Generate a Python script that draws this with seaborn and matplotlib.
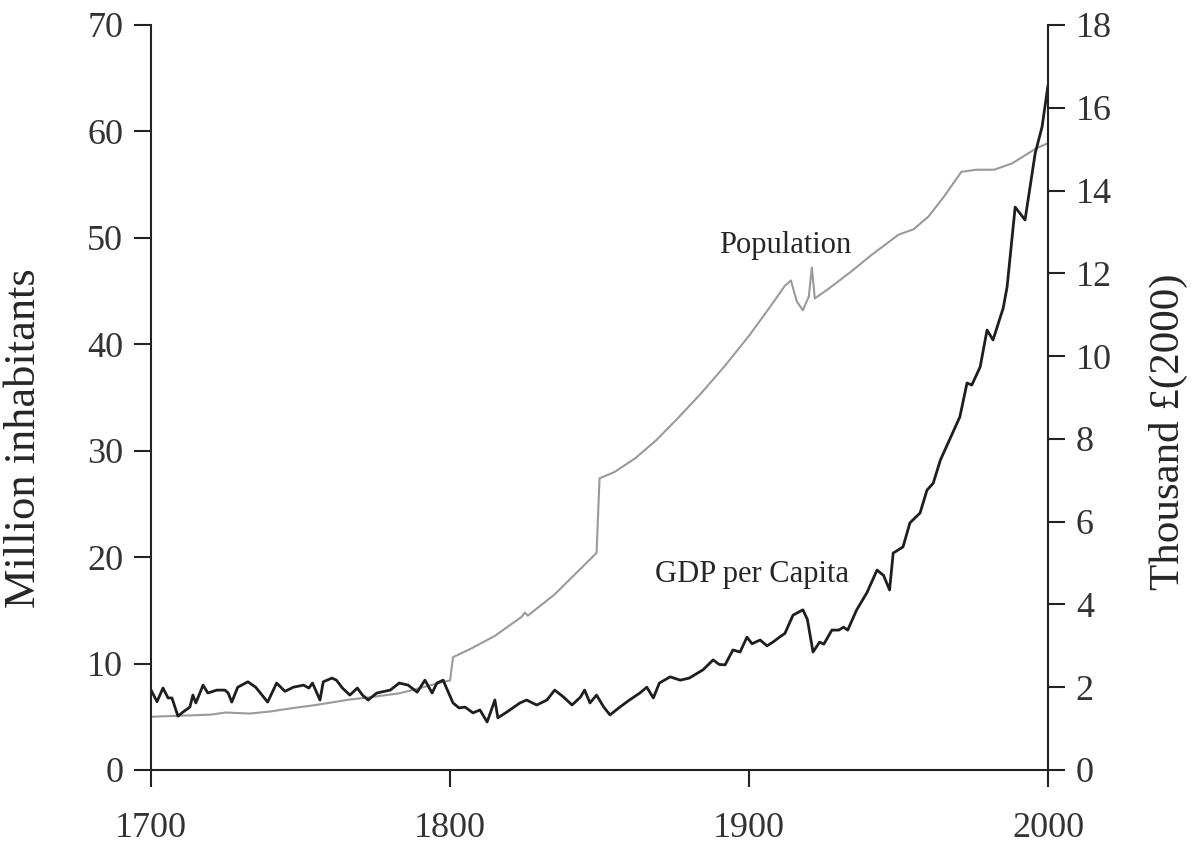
import numpy as np
import pandas as pd
import matplotlib
matplotlib.use("Agg")
import matplotlib.pyplot as plt
import seaborn as sns

# Population, million inhabitants
pop_years = [1700, 1710, 1720, 1725, 1733, 1740, 1747, 1755, 1766, 1775, 1783,
             1790, 1798, 1800, 1801, 1807, 1815, 1824, 1825, 1826, 1835, 1849,
             1850, 1855, 1862, 1869, 1876, 1884, 1892, 1900, 1907, 1912, 1914,
             1916, 1918, 1920, 1921, 1922, 1927, 1934, 1941, 1950, 1955, 1960,
             1965, 1971, 1976, 1982, 1988, 1996, 2000]
pop_values = [5.0, 5.1, 5.2, 5.4, 5.3, 5.5, 5.8, 6.1, 6.6, 6.9, 7.2,
              7.7, 8.3, 8.4, 10.6, 11.4, 12.6, 14.4, 14.8, 14.5, 16.5, 20.4,
              27.4, 28.0, 29.3, 31.0, 33.0, 35.4, 38.0, 40.8, 43.5, 45.5, 46.0,
              44.0, 43.2, 44.5, 47.2, 44.3, 45.3, 46.8, 48.4, 50.3, 50.8, 52.0,
              53.8, 56.2, 56.4, 56.4, 57.0, 58.4, 58.9]

# GDP per capita, thousand GBP (2000)
gdp_years = [1700, 1702, 1704, 1705.7, 1707, 1709, 1710.7, 1713, 1714, 1715,
             1717.4, 1719, 1722, 1724.7, 1725.8, 1727, 1729, 1732.4, 1735, 1739,
             1742, 1744.8, 1747.6, 1751, 1752.8, 1754, 1756.5, 1757.6, 1760.5,
             1762, 1764, 1766.5, 1769, 1770.7, 1772.6, 1775.5, 1780, 1783, 1786,
             1789, 1791.6, 1794, 1795.6, 1797.7, 1799.3, 1801, 1803, 1805,
             1807.7, 1810, 1812.4, 1815, 1816, 1819, 1823.4, 1825.6, 1829,
             1832.4, 1835, 1838, 1840.8, 1843.6, 1845, 1846.8, 1849, 1851.4,
             1853.5, 1856.8, 1860, 1863.5, 1865.8, 1868, 1870, 1873.6, 1877,
             1880, 1884.6, 1888, 1890, 1892, 1894.6, 1897, 1899.3, 1901, 1903.7,
             1906, 1908, 1910, 1912, 1914.7, 1918, 1919.5, 1921.4, 1923.6, 1925,
             1927.7, 1930, 1931.6, 1933, 1936, 1939.4, 1942.8, 1945, 1947,
             1948.2, 1951.5, 1953.8, 1957.2, 1959.5, 1961.6, 1964, 1967, 1970.5,
             1972.9, 1974.5, 1977.3, 1979.6, 1981.6, 1985, 1986.3, 1989, 1992.3,
             1995.7, 1998, 2000]
gdp_values = [1.93, 1.65, 1.98, 1.74, 1.74, 1.30, 1.40, 1.52, 1.81, 1.62,
              2.05, 1.86, 1.93, 1.93, 1.86, 1.64, 2.00, 2.13, 2.00, 1.64,
              2.10, 1.90, 2.00, 2.05, 1.98, 2.10, 1.69, 2.13, 2.22,
              2.17, 1.98, 1.81, 1.98, 1.81, 1.69, 1.86, 1.93, 2.10, 2.05,
              1.88, 2.17, 1.86, 2.10, 2.17, 1.90, 1.62, 1.50, 1.52,
              1.38, 1.45, 1.16, 1.69, 1.26, 1.40, 1.62, 1.69, 1.57,
              1.69, 1.93, 1.76, 1.57, 1.76, 1.93, 1.62, 1.81, 1.52,
              1.33, 1.52, 1.69, 1.86, 2.00, 1.74, 2.10, 2.25, 2.17,
              2.22, 2.42, 2.66, 2.55, 2.54, 2.90, 2.85, 3.21, 3.05, 3.14,
              3.00, 3.09, 3.20, 3.30, 3.74, 3.87, 3.64, 2.85, 3.09, 3.04,
              3.38, 3.38, 3.45, 3.38, 3.87, 4.28, 4.83, 4.70, 4.35,
              5.24, 5.39, 5.97, 6.21, 6.76, 6.93, 7.49, 7.97, 8.53,
              9.35, 9.30, 9.74, 10.63, 10.39, 11.16, 11.67, 13.60, 13.29,
              14.90, 15.54, 16.55]

pop_df = pd.DataFrame({"year": pop_years, "population": pop_values})
gdp_df = pd.DataFrame({"year": gdp_years, "gdp": gdp_values})

sns.set_theme(style="ticks")
plt.rcParams["font.family"] = ["Liberation Serif", "DejaVu Serif"]

fig = plt.figure(figsize=(11.93, 8.44), dpi=100)
ax = fig.add_axes([0.1266, 0.0877, 0.7519, 0.8827])
ax2 = ax.twinx()

sns.lineplot(data=pop_df, x="year", y="population", ax=ax, color="#9a9a9a",
             linewidth=1.5, estimator=None)
sns.lineplot(data=gdp_df, x="year", y="gdp", ax=ax2, color="#1e1e1e",
             linewidth=2.0, estimator=None)

ax.set_xlim(1700, 2000)
ax.set_ylim(0, 70)
ax2.set_ylim(0, 18)
ax.set_xticks([1700, 1800, 1900, 2000])
ax.set_yticks(range(0, 71, 10))
ax2.set_yticks(range(0, 19, 2))

for a in (ax, ax2):
    a.spines["top"].set_visible(False)
    for s in a.spines.values():
        s.set_linewidth(1.5)
        s.set_color("#222222")
    a.tick_params(direction="out", length=12, width=1.5, color="#222222",
                  labelsize=26, labelcolor="#333333", pad=8)
ax.spines["right"].set_visible(False)
ax2.spines["left"].set_visible(False)
ax2.spines["bottom"].set_visible(False)
ax.tick_params(axis="x", pad=18)

ax.set_xlabel("")
ax.set_ylabel("Million inhabitants", fontsize=32)
ax2.set_ylabel("Thousand £(2000)", fontsize=31, rotation=90)
ax.yaxis.set_label_coords(-0.119, 0.446)
ax2.yaxis.set_label_coords(1.113, 0.454)

ax.text(1912, 49.3, "Population", fontsize=22, ha="center", va="center")
ax.text(1901, 18.4, "GDP per Capita", fontsize=22, ha="center", va="center")

fig.savefig("out.png", dpi=100, facecolor="white")
